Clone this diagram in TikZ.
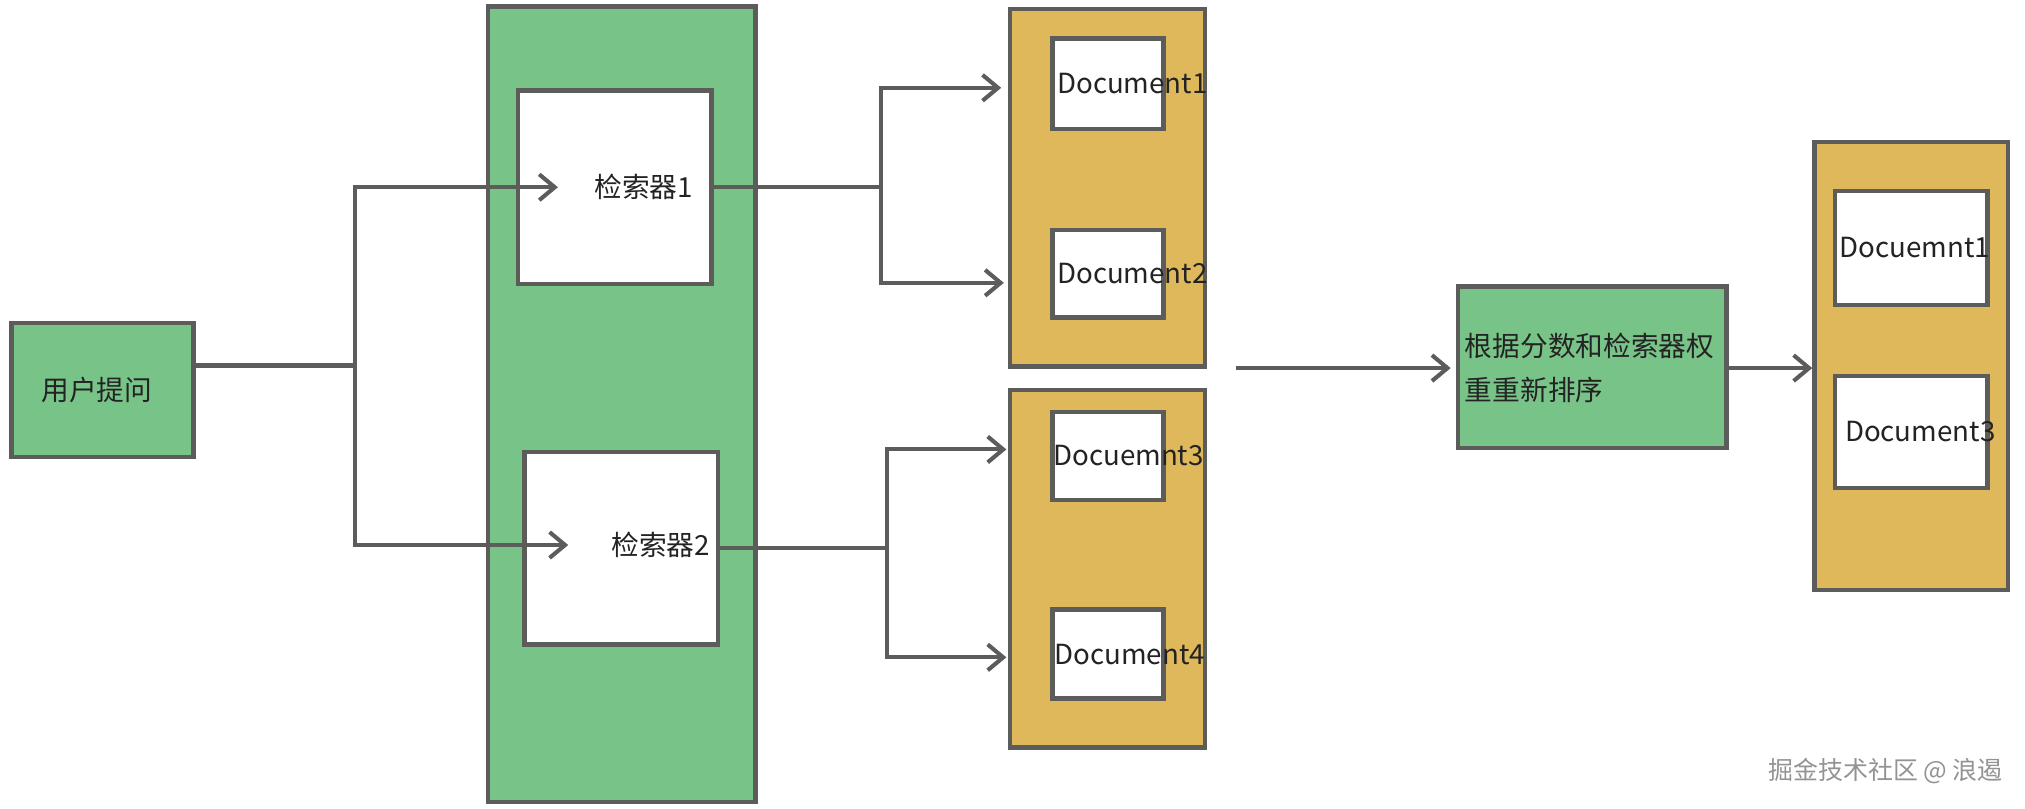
\documentclass[tikz,border=0pt]{standalone}
\usepackage{fontspec}
\setmainfont{Noto Sans CJK SC}
\usepackage{tikz}
\usetikzlibrary{arrows.meta}

\definecolor{boxgreen}{RGB}{120,195,135}
\definecolor{boxgold}{RGB}{223,184,92}
\definecolor{linegray}{RGB}{92,92,90}
\definecolor{inkgray}{RGB}{35,35,35}

\begin{document}
\begin{tikzpicture}[x=0.02cm, y=-0.02cm,
  box/.style={draw=linegray, line width=2pt, rectangle, inner sep=0pt},
  greenbox/.style={box, fill=boxgreen},
  goldbox/.style={box, fill=boxgold},
  whitebox/.style={box, fill=white},
  txt/.style={inner sep=0pt, text=inkgray, font=\fontsize{12.2}{19.5}\selectfont},
  wire/.style={draw=linegray, line width=1.8pt},
  arr/.style={wire, -{Straight Barb[length=2.4mm, width=4mm, line width=1.8pt]}},
  wmtxt/.style={inner sep=0pt, text=gray!85, font=\fontsize{11}{13}\selectfont}]
\useasboundingbox (0,0) rectangle (1568,626);

% User query
\node[greenbox, minimum width=2.82cm, minimum height=2.08cm] (query) at (79.5,302) {};
\node[txt] (querytxt) at (75,302) {用户提问};

% Retrievers
\node[greenbox, minimum width=4.14cm, minimum height=12.32cm] (retgrp) at (481.5,313) {};
\node[whitebox, minimum width=3.0cm, minimum height=3.0cm] (ret1) at (476,145) {};
\node[whitebox, minimum width=3.0cm, minimum height=2.98cm] (ret2) at (481,424.5) {};
\node[txt, anchor=west] (ret1txt) at (460,145) {检索器1};
\node[txt, anchor=west] (ret2txt) at (473,422) {检索器2};

% Retrieved documents
\node[goldbox, minimum width=3.02cm, minimum height=5.54cm] (grp1) at (857.5,145.5) {};
\node[goldbox, minimum width=3.02cm, minimum height=5.54cm] (grp2) at (857.5,440.5) {};
\node[whitebox, minimum width=1.72cm, minimum height=1.40cm] (doc1) at (858,65) {};
\node[whitebox, minimum width=1.72cm, minimum height=1.36cm] (doc2) at (858,212) {};
\node[whitebox, minimum width=1.72cm, minimum height=1.36cm] (doc3) at (858,353) {};
\node[whitebox, minimum width=1.72cm, minimum height=1.38cm] (doc4) at (858,506.5) {};
\node[txt, anchor=west] (doc1txt) at ([xshift=0.1cm]doc1.west) {Document1};
\node[txt, anchor=west] (doc2txt) at ([xshift=0.1cm]doc2.west) {Document2};
\node[txt, anchor=west] (doc3txt) at ([xshift=0.04cm]doc3.west) {Docuemnt3};
\node[txt, anchor=west] (doc4txt) at ([xshift=0.06cm]doc4.west) {Document4};

% Rerank
\node[greenbox, minimum width=4.16cm, minimum height=2.5cm] (rerank) at (1233,284.5) {};
\node[txt, align=left, anchor=west] (reranktxt) at (1134,285) {根据分数和检索器权\\重重新排序};

% Final documents
\node[goldbox, minimum width=3.0cm, minimum height=6.94cm] (final) at (1480,283.5) {};
\node[whitebox, minimum width=2.36cm, minimum height=1.76cm] (fin1) at (1480,192) {};
\node[whitebox, minimum width=2.36cm, minimum height=1.74cm] (fin2) at (1480,334.5) {};
\node[txt, anchor=west] (fin1txt) at ([xshift=0.1cm]fin1.west) {Docuemnt1};
\node[txt, anchor=west] (fin2txt) at ([xshift=0.18cm]fin2.west) {Document3};

% Junctions
\coordinate (split) at (275,283);
\coordinate (fork1) at (682,145);
\coordinate (fork2) at (687,424.5);
\coordinate (gather) at (957,285);

% Arrows
\draw[wire] (query.east |- split) -- (split);
\draw[arr, shorten >=0.56cm] (split) |- (ret1txt.west);
\draw[arr, shorten >=0.66cm] (split) |- (ret2txt.west);

\draw[wire] (ret1.east) -- (fork1);
\draw[wire] (ret2.east) -- (fork2);
\draw[arr, shorten >=0.1cm] (fork1) |- ([yshift=-0.06cm]doc1 -| grp1.west);
\draw[arr, shorten >=0.06cm] (fork1) |- ([yshift=-0.14cm]doc2 -| grp1.west);
\draw[arr, shorten >=0.02cm] (fork2) |- ([yshift=0.1cm]doc3 -| grp2.west);
\draw[arr, shorten >=0.02cm] (fork2) |- ([yshift=-0.05cm]doc4 -| grp2.west);

\draw[arr, shorten >=0.08cm] (gather) -- (gather -| rerank.west);
\draw[arr] (rerank.east |- gather) -- (gather -| final.west);

% Watermark
\node[wmtxt] (credit) at (1460,597) {掘金技术社区 @ 浪遏};
\end{tikzpicture}
\end{document}
